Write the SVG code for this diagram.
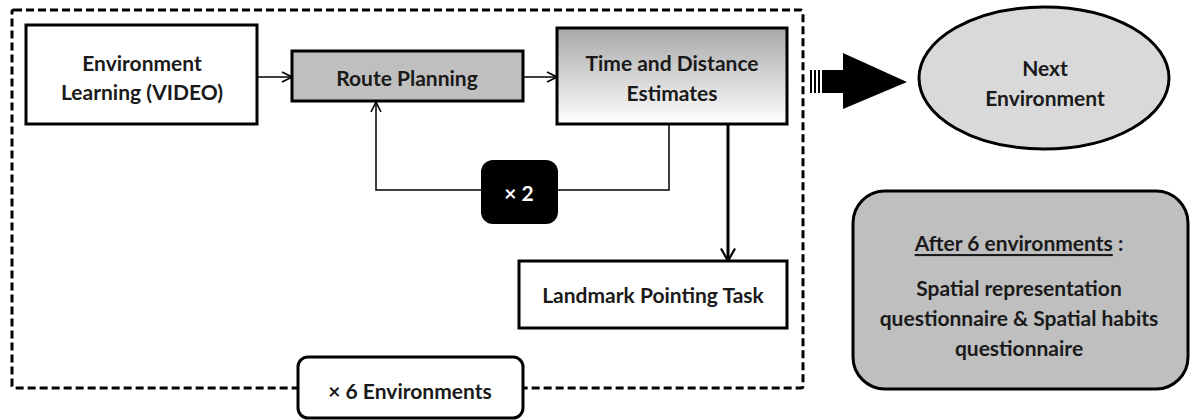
<svg xmlns="http://www.w3.org/2000/svg" width="1193" height="420" viewBox="0 0 1193 420">
<defs>
<style>
.box{stroke:#000;stroke-width:3;}
.t{font-family:Lato,"Liberation Sans",sans-serif;font-weight:bold;font-size:21px;fill:#1a1a1a;text-anchor:middle;dominant-baseline:central;}
.ln{fill:none;stroke:#000;stroke-width:1.5;}
</style>
<linearGradient id="g" x1="0" y1="0" x2="0" y2="1">
<stop offset="0" stop-color="#a8a8a8"/>
<stop offset="1" stop-color="#ffffff"/>
</linearGradient>
<marker id="ah" viewBox="0 0 12 12" refX="11" refY="6" markerWidth="12" markerHeight="12" markerUnits="userSpaceOnUse" orient="auto">
<path d="M1,1 L11,6 L1,11" fill="none" stroke="#000" stroke-width="1.6"/>
</marker>
<marker id="ah2" viewBox="0 0 16 16" refX="14.5" refY="8" markerWidth="16" markerHeight="16" markerUnits="userSpaceOnUse" orient="auto">
<path d="M2,1 L14.5,8 L2,15" fill="none" stroke="#000" stroke-width="2.2"/>
</marker>
</defs>
<rect width="1193" height="420" fill="#fff"/>
<g id="frame">
<rect x="12" y="10" width="791" height="378" rx="2" fill="none" stroke="#000" stroke-width="3" stroke-dasharray="8 4"/>
</g>
<g id="connectors">
<line class="ln" x1="257" y1="77" x2="292" y2="77" marker-end="url(#ah)"/>
<line class="ln" x1="523" y1="77" x2="557" y2="77" marker-end="url(#ah)"/>
<path class="ln" d="M669,124 V190 H376 V102" marker-end="url(#ah)"/>
<line x1="728" y1="124" x2="728" y2="261" stroke="#000" stroke-width="3" marker-end="url(#ah2)"/>
</g>
<g id="env-learning">
<rect class="box" x="26" y="25" width="231" height="99" fill="#fff"/>
<text class="t" x="142" y="62">Environment</text>
<text class="t" x="142" y="91">Learning (VIDEO)</text>
</g>
<g id="route-planning">
<rect class="box" x="292" y="51" width="231" height="50" fill="#bfbfbf"/>
<text class="t" x="407" y="77">Route Planning</text>
</g>
<g id="time-distance">
<rect class="box" x="557" y="28" width="230" height="96" fill="url(#g)"/>
<text class="t" x="672" y="62">Time and Distance</text>
<text class="t" x="672" y="92">Estimates</text>
</g>
<g id="x2">
<rect x="481" y="160" width="77" height="64" rx="12" fill="#000"/>
<text class="t" x="519" y="192" style="fill:#fff">× 2</text>
</g>
<g id="landmark">
<rect class="box" x="519" y="261" width="268" height="67" fill="#fff"/>
<text class="t" x="653" y="294">Landmark Pointing Task</text>
</g>
<g id="x6">
<rect class="box" x="298" y="357" width="225" height="61" rx="10" fill="#fff"/>
<text class="t" x="410" y="390">× 6 Environments</text>
</g>
<g id="big-arrow">
<rect x="810" y="70" width="2" height="23" fill="#000"/>
<rect x="814" y="70" width="2" height="23" fill="#000"/>
<rect x="818" y="70" width="2" height="23" fill="#000"/>
<polygon points="822,70 843,70 843,53 907,82 843,109 843,93 822,93" fill="#000"/>
</g>
<g id="next-env">
<ellipse cx="1044" cy="78" rx="125" ry="71" fill="#d9d9d9" stroke="#000" stroke-width="3"/>
<text class="t" x="1045" y="67">Next</text>
<text class="t" x="1045" y="97">Environment</text>
</g>
<g id="after">
<rect class="box" x="853" y="191" width="335" height="198" rx="32" fill="#bfbfbf"/>
<text class="t" x="1019" y="242"><tspan text-decoration="underline">After 6 environments</tspan> :</text>
<text class="t" x="1019" y="287">Spatial representation</text>
<text class="t" x="1019" y="317">questionnaire &amp; Spatial habits</text>
<text class="t" x="1019" y="347">questionnaire</text>
</g>
</svg>
